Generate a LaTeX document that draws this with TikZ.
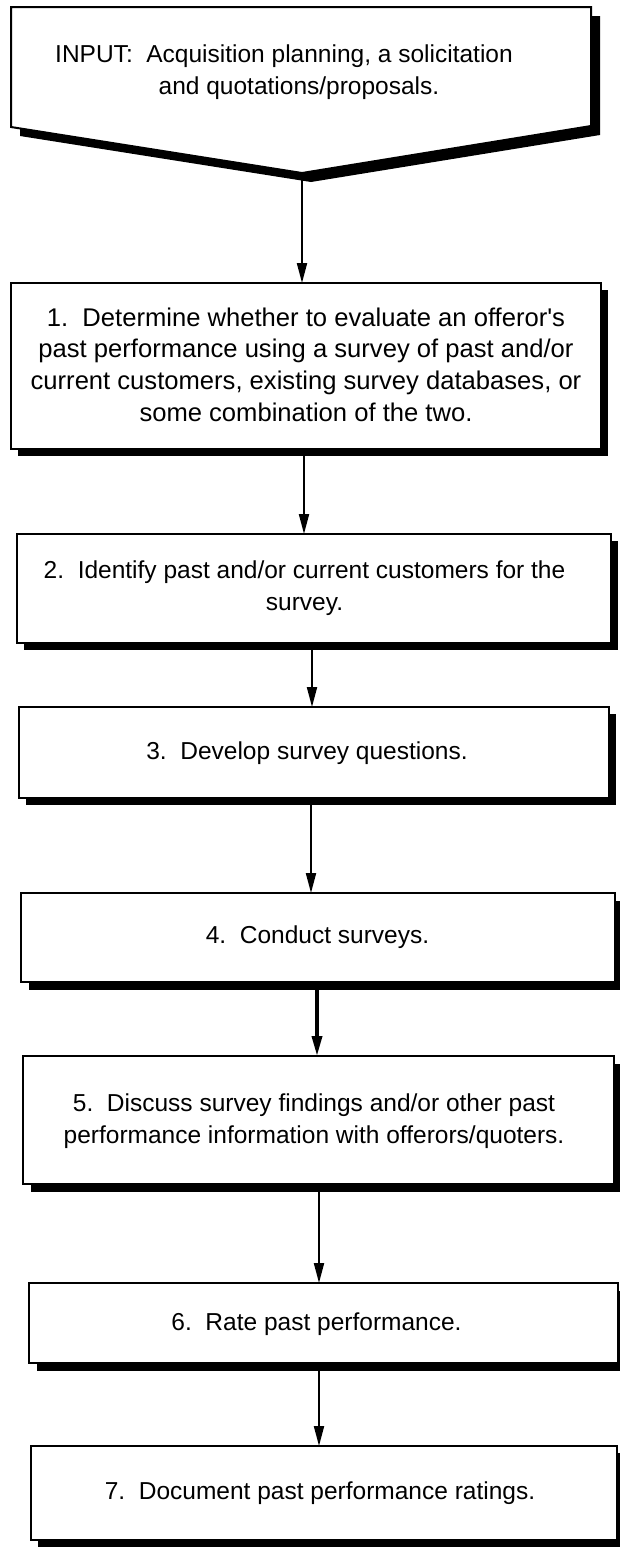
\documentclass[tikz,border=0pt]{standalone}
\usepackage{fontspec}
\setmainfont{Liberation Sans}
\usetikzlibrary{arrows.meta,shadows}
\begin{document}
\begin{tikzpicture}[x=1pt,y=-1pt,
  box/.style={draw,line width=2pt,fill=white,inner sep=0pt,outer sep=0pt,rectangle},
  shad/.style={drop shadow={shadow xshift=#1,shadow yshift=-#1,opacity=1,fill=black}},
  txt/.style={align=center,font=\fontsize{24.5pt}{32pt}\selectfont,inner sep=0pt},
  bigtxt/.style={align=center,font=\fontsize{25.6pt}{31.7pt}\selectfont,inner sep=0pt},
  arr/.style={line width=2pt,-{Triangle[length=20pt,width=10pt]}},
  thickarr/.style={line width=3.5pt,-{Triangle[length=20pt,width=10pt]}}]
\useasboundingbox (0,0) rectangle (619,1551);

% input shape
\fill[black] (20,16) -- (600,16) -- (600,135) -- (311,182) -- (20,136) -- cycle;
\draw[line width=2pt,fill=white] (11,7) -- (591,7) -- (591,126) -- (302,173) -- (11,127) -- cycle;
\coordinate (tip) at (302,173);
\node[txt] (intext) at (299,72.5) {INPUT:\ \ Acquisition planning, a solicitation\hspace*{30pt}\\and quotations/proposals.};

% boxes
\node[box,shad=7pt,minimum width=590pt,minimum height=166pt] (b1) at (306,366) {};
\node[box,shad=7pt,minimum width=594pt,minimum height=109pt] (b2) at (314,588.5) {};
\node[box,shad=7pt,minimum width=590pt,minimum height=91pt] (b3) at (314,752.5) {};
\node[box,shad=8pt,minimum width=594pt,minimum height=89pt] (b4) at (318,937.5) {};
\node[box,shad=8pt,minimum width=591pt,minimum height=128pt] (b5) at (318.5,1120) {};
\node[box,shad=8pt,minimum width=589pt,minimum height=80pt] (b6) at (323.5,1323) {};
\node[box,shad=7pt,minimum width=586pt,minimum height=94pt] (b7) at (324,1493) {};

% texts
\node[bigtxt] (t1) at (306,364.5) {1.\ \ Determine whether to evaluate an offeror\textquotesingle s\\past performance using a survey of past and/or\\current customers, existing survey databases, or\\some combination of the two.};
\node[txt] (t2) at (304.5,588.5) {2.\ \ Identify past and/or current customers for the\\survey.};
\node[txt] (t3) at (307,753) {3.\ \ Develop survey questions.};
\node[txt] (t4) at (317.5,937) {4.\ \ Conduct surveys.};
\node[txt] (t5) at (314,1121.5) {5.\ \ Discuss survey findings and/or other past\\performance information with offerors/quoters.};
\node[txt] (t6) at (316.5,1324) {6.\ \ Rate past performance.};
\node[txt] (t7) at (320,1493) {7.\ \ Document past performance ratings.};

% connector x positions
\coordinate (x2) at (304,0);
\coordinate (x3) at (312,0);
\coordinate (x4) at (311,0);
\coordinate (x5) at (317,0);
\coordinate (x6) at (319,0);
\coordinate (x7) at (319,0);

\draw[arr] (tip) -- (b1.north -| tip);
\draw[arr] (b1.south -| x2) -- (b2.north -| x2);
\draw[arr] (b2.south -| x3) -- (b3.north -| x3);
\draw[arr] (b3.south -| x4) -- (b4.north -| x4);
\draw[thickarr] (b4.south -| x5) -- (b5.north -| x5);
\draw[arr] (b5.south -| x6) -- (b6.north -| x6);
\draw[arr] (b6.south -| x7) -- (b7.north -| x7);
\end{tikzpicture}
\end{document}
